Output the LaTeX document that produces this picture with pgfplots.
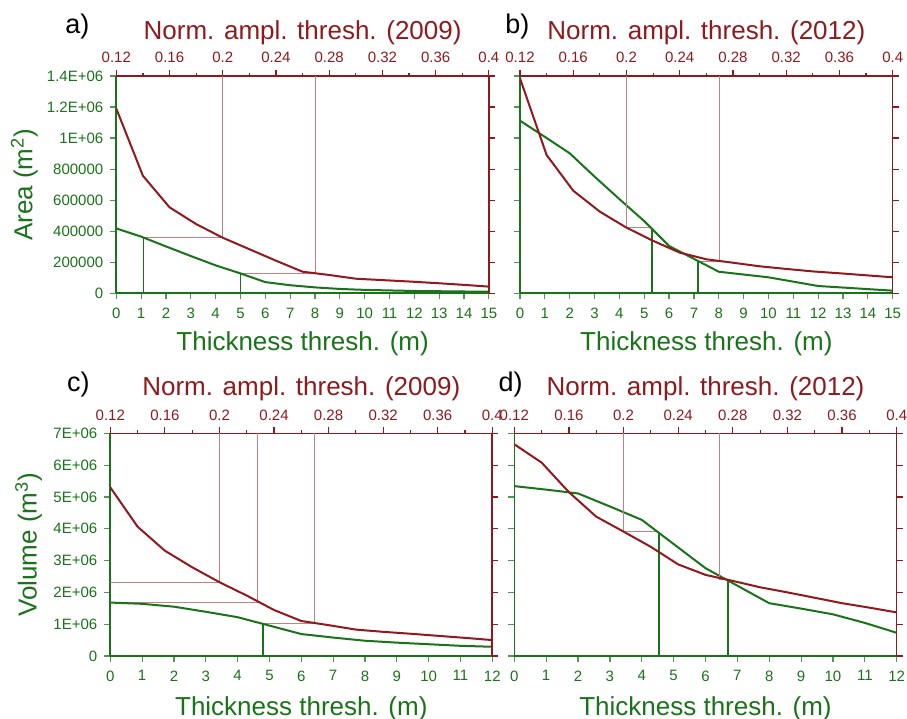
\documentclass[border=0pt]{standalone}
\usepackage{fontspec}
\setmainfont{Liberation Sans}
\usepackage{pgfplots}
\pgfplotsset{compat=1.18}
\definecolor{gcol}{RGB}{25,115,25}
\definecolor{rcol}{RGB}{145,25,30}
\definecolor{rlight}{RGB}{195,130,130}

\pgfplotsset{
  panel/.style={scale only axis, tick align=outside,
    major tick length=3pt, minor tick length=1.6pt,
    /pgf/number format/assume math mode=true,
    tick label style={font=\fontsize{7.5}{9}\selectfont},
    label style={font=\fontsize{13}{15}\selectfont},
    every axis title shift=0pt,
    title style={font=\fontsize{13}{15}\selectfont, text=rcol, at={(0.5,1.17)}, anchor=base},
    scaled y ticks=false, scaled x ticks=false},
  gax/.style={panel, axis x line*=bottom, axis y line*=left,
    axis line style={gcol, line width=0.8pt},
    tick style={gcol!75, line width=0.6pt},
    tick label style={text=gcol},
    xticklabel style={yshift=-0.8pt},
    xlabel style={text=gcol, at={(axis description cs:0.5,-0.265)}, anchor=base},
    ylabel style={text=gcol, anchor=base},
    xmin=0},
  rax/.style={panel, axis x line*=top, axis y line*=right,
    axis line style={rcol, line width=0.8pt},
    tick style={rcol, line width=0.6pt},
    tick label style={text=rcol},
    xmin=0.12, xmax=0.4,
    xtick={0.12,0.16,0.2,0.24,0.28,0.32,0.36,0.4},
    xticklabels={0.12,0.16,0.2,0.24,0.28,0.32,0.36,0.4},
    minor xtick={0.14,0.18,0.22,0.26,0.30,0.34,0.38},
    yticklabels={}},
  areay/.style={ymin=0, ymax=1400000, ytick={0,200000,400000,600000,800000,1000000,1200000,1400000}},
  voly/.style={ymin=0, ymax=7000000, ytick={0,1000000,2000000,3000000,4000000,5000000,6000000,7000000}},
  curve/.style={line width=1pt},
  refr/.style={rlight, line width=0.5pt},
  refg/.style={gcol, line width=0.85pt}
}
\tikzset{letter/.style={anchor=base west, inner sep=0pt, font=\fontsize{13.5}{15}\selectfont}}

\begin{document}
\begin{tikzpicture}
\path[use as bounding box] (0,0) rectangle (453.5pt,359.5pt);

% ---- a) area 2009
\begin{axis}[gax, areay, at={(58.15pt,212.85pt)}, anchor=south west,
  width=186.3pt, height=108.65pt, xmax=15, xtick={0,1,...,15},
  yticklabels={0,200000,400000,600000,800000,1E+06,1.2E+06,1.4E+06},
  xlabel={Thickness thresh. (m)},
  ylabel={Area (m\textsuperscript{2})},
  ylabel style={at={(axis description cs:-0.2255,0.5)}}]
\addplot[refr] coordinates {(1.1,358000) (4.2857,358000)};
\addplot[refr] coordinates {(5,128500) (8.0357,128500)};
\addplot[refg] coordinates {(1.1,0) (1.1,358000)};
\addplot[refg] coordinates {(5,0) (5,128000)};
\addplot[curve, gcol] coordinates {(0,418000) (1,365000) (2,302000) (3,240000) (4,180000)
  (5,128000) (6,72000) (7,52000) (8,38000) (9,28000) (10,22000) (12,15000) (15,10000)};
\end{axis}
\begin{axis}[rax, areay, at={(58.15pt,212.85pt)}, anchor=south west,
  width=186.3pt, height=108.65pt, title={Norm. ampl. thresh. (2009)}]
\addplot[refr] coordinates {(0.2,1400000) (0.2,358000)};
\addplot[refr] coordinates {(0.27,1400000) (0.27,128500)};
\addplot[curve, rcol] coordinates {(0.12,1190000) (0.14,757000) (0.16,554000) (0.18,446000)
  (0.2,358000) (0.22,284000) (0.24,210000) (0.26,139000) (0.28,118000) (0.30,94000)
  (0.32,85000) (0.34,76000) (0.36,66000) (0.38,55000) (0.4,43000)};
\end{axis}

% ---- b) area 2012
\begin{axis}[gax, areay, at={(260pt,212.85pt)}, anchor=south west,
  width=186.35pt, height=108.65pt, xmax=15, xtick={0,1,...,15},
  yticklabels={}, xlabel={Thickness thresh. (m)}]
\addplot[refr] coordinates {(4.2857,423000) (5.3,423000)};
\addplot[refr] coordinates {(7.15,208000) (8.0357,208000)};
\addplot[refg] coordinates {(5.3,0) (5.3,420000)};
\addplot[refg] coordinates {(7.15,0) (7.15,210000)};
\addplot[curve, gcol] coordinates {(0,1112000) (1,1008000) (2,902000) (3,752000) (4,607000)
  (5,465000) (6,305000) (7,222000) (8,139000) (9,121000) (10,103000) (11,75000)
  (12,47000) (13,37000) (14,27000) (15,17000)};
\end{axis}
\begin{axis}[rax, areay, at={(260pt,212.85pt)}, anchor=south west,
  width=186.35pt, height=108.65pt, title={Norm. ampl. thresh. (2012)}]
\addplot[refr] coordinates {(0.2,1400000) (0.2,423000)};
\addplot[refr] coordinates {(0.27,1400000) (0.27,208000)};
\addplot[curve, rcol] coordinates {(0.12,1385000) (0.14,891000) (0.16,661000) (0.18,526000)
  (0.2,423000) (0.22,338000) (0.24,262000) (0.26,219000) (0.28,197000) (0.30,174000)
  (0.32,157000) (0.34,141000) (0.36,129000) (0.38,116000) (0.4,103000)};
\end{axis}

% ---- c) volume 2009
\begin{axis}[gax, voly, at={(55.15pt,31.5pt)}, anchor=south west,
  width=191pt, height=111.35pt, xmax=12, xtick={0,1,...,12},
  yticklabels={0,1E+06,2E+06,3E+06,4E+06,5E+06,6E+06,7E+06},
  xlabel={Thickness thresh. (m)},
  ylabel={Volume (m\textsuperscript{3})},
  ylabel style={at={(axis description cs:-0.193,0.5)}}]
\addplot[refr] coordinates {(0,2320000) (3.4286,2320000)};
\addplot[refr] coordinates {(0,1680000) (4.6286,1680000)};
\addplot[refr] coordinates {(4.8,1030000) (6.4286,1030000)};
\addplot[refg] coordinates {(4.8,0) (4.8,1010000)};
\addplot[curve, gcol] coordinates {(0,1680000) (1,1640000) (2,1550000) (3,1390000) (4,1220000)
  (5,955000) (6,690000) (7,580000) (8,480000) (9,420000) (10,370000) (11,320000) (12,290000)};
\end{axis}
\begin{axis}[rax, voly, at={(55.15pt,31.5pt)}, anchor=south west,
  width=191pt, height=111.35pt, title={Norm. ampl. thresh. (2009)}]
\addplot[refr] coordinates {(0.2,7000000) (0.2,2320000)};
\addplot[refr] coordinates {(0.228,7000000) (0.228,1680000)};
\addplot[refr] coordinates {(0.27,7000000) (0.27,1030000)};
\addplot[curve, rcol] coordinates {(0.12,5300000) (0.14,4065000) (0.16,3310000) (0.18,2790000)
  (0.2,2320000) (0.22,1900000) (0.24,1446000) (0.26,1100000) (0.28,970000) (0.30,830000)
  (0.32,760000) (0.34,700000) (0.36,635000) (0.38,570000) (0.4,500000)};
\end{axis}

% ---- d) volume 2012
\begin{axis}[gax, voly, at={(257.15pt,31.5pt)}, anchor=south west,
  width=191.2pt, height=111.35pt, xmax=12, xtick={0,1,...,12},
  yticklabels={}, xlabel={Thickness thresh. (m)}]
\addplot[refr] coordinates {(3.4286,3910000) (4.55,3910000)};
\addplot[refr] coordinates {(6.4286,2420000) (6.7,2420000)};
\addplot[refg] coordinates {(4.55,0) (4.55,3890000)};
\addplot[refg] coordinates {(6.7,0) (6.7,2380000)};
\addplot[curve, gcol] coordinates {(0,5340000) (1,5230000) (2,5110000) (3,4700000) (4,4280000)
  (5,3520000) (6,2760000) (7,2210000) (8,1660000) (9,1490000) (10,1310000) (11,1040000)
  (12,730000)};
\end{axis}
\begin{axis}[rax, voly, at={(257.15pt,31.5pt)}, anchor=south west,
  width=191.2pt, height=111.35pt, title={Norm. ampl. thresh. (2012)}]
\addplot[refr] coordinates {(0.2,7000000) (0.2,3910000)};
\addplot[refr] coordinates {(0.27,7000000) (0.27,2440000)};
\addplot[curve, rcol] coordinates {(0.12,6655000) (0.14,6080000) (0.16,5150000) (0.18,4380000)
  (0.2,3910000) (0.22,3430000) (0.24,2880000) (0.26,2550000) (0.28,2360000) (0.30,2160000)
  (0.32,2000000) (0.34,1830000) (0.36,1660000) (0.38,1520000) (0.4,1370000)};
\end{axis}

\node[letter] at (32.5pt,342.85pt) {a)};
\node[letter] at (252.5pt,342.85pt) {b)};
\node[letter] at (33.35pt,163.65pt) {c)};
\node[letter] at (249.15pt,163.65pt) {d)};
\end{tikzpicture}
\end{document}
